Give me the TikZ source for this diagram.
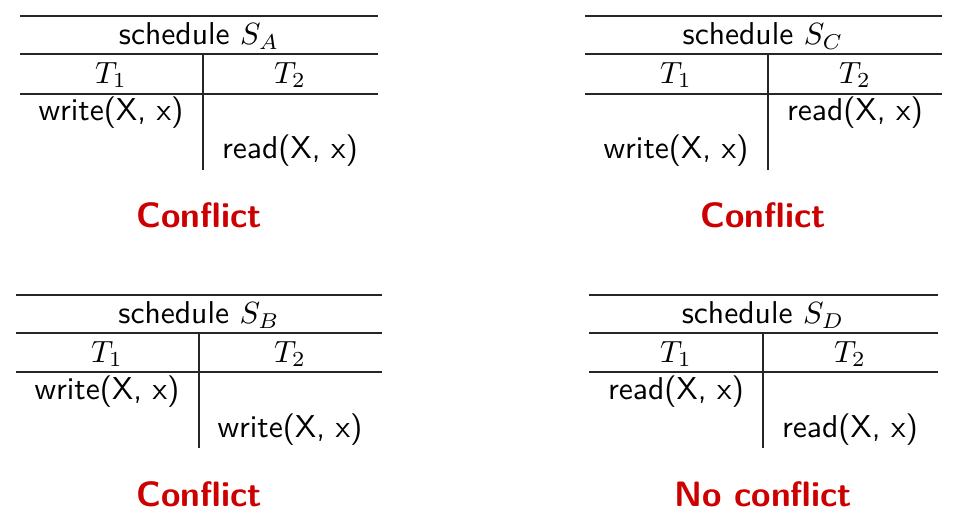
\documentclass[tikz,border=0pt]{standalone}
\usepackage{tikz}
\usetikzlibrary{positioning,calc}
\definecolor{alertred}{RGB}{204,0,0}
\tikzset{
  rule/.style={line width=0.6pt, draw=black!85},
  cell/.style={font=\sffamily\fontsize{10.3}{12}\selectfont, inner sep=0pt},
  verdict/.style={font=\sffamily\bfseries\fontsize{11.5}{13}\selectfont, text=alertred, inner sep=0pt}
}

\begin{document}
\begin{tikzpicture}[x=0.326pt, y=-0.326pt]
    \useasboundingbox (0,0) rectangle (970,521);

    % schedule S_A
    \coordinate (a0) at (20,16);   \coordinate (a1) at (378,16);
    \coordinate (a2) at (20,54);   \coordinate (a3) at (378,54);
    \coordinate (a4) at (20,94);   \coordinate (a5) at (378,94);
    \coordinate (am) at (203,54);  \coordinate (ae) at (203,170);
    \node[cell] (aH)  at (199,36)  {schedule $S_A$};
    \node[cell] (aT1) at (111,75)  {$T_1$};
    \node[cell] (aT2) at (290,75)  {$T_2$};
    \node[cell] (aR1) at (111,113) {write(X, x)};
    \node[cell] (aR2) at (290,151) {read(X, x)};
    \node[verdict] (aV) at (199,215) {Conflict};
    \draw[rule] (a0) -- (a1);
    \draw[rule] (a2) -- (a3);
    \draw[rule] (a4) -- (a5);
    \draw[rule] (am) -- (ae);

    % schedule S_C
    \coordinate (c0) at (585,16);  \coordinate (c1) at (942,16);
    \coordinate (c2) at (585,54);  \coordinate (c3) at (942,54);
    \coordinate (c4) at (585,94);  \coordinate (c5) at (942,94);
    \coordinate (cm) at (768,54);  \coordinate (ce) at (768,170);
    \node[cell] (cH)  at (763,36)  {schedule $S_C$};
    \node[cell] (cT1) at (676,75)  {$T_1$};
    \node[cell] (cT2) at (855,75)  {$T_2$};
    \node[cell] (cR1) at (855,113) {read(X, x)};
    \node[cell] (cR2) at (676,151) {write(X, x)};
    \node[verdict] (cV) at (763,215) {Conflict};
    \draw[rule] (c0) -- (c1);
    \draw[rule] (c2) -- (c3);
    \draw[rule] (c4) -- (c5);
    \draw[rule] (cm) -- (ce);

    % schedule S_B
    \coordinate (b0) at (16,295);  \coordinate (b1) at (382,295);
    \coordinate (b2) at (16,333);  \coordinate (b3) at (382,333);
    \coordinate (b4) at (16,372);  \coordinate (b5) at (382,372);
    \coordinate (bm) at (199,333); \coordinate (be) at (199,448);
    \node[cell] (bH)  at (199,315) {schedule $S_B$};
    \node[cell] (bT1) at (107,354) {$T_1$};
    \node[cell] (bT2) at (290,354) {$T_2$};
    \node[cell] (bR1) at (107,392) {write(X, x)};
    \node[cell] (bR2) at (290,430) {write(X, x)};
    \node[verdict] (bV) at (199,494) {Conflict};
    \draw[rule] (b0) -- (b1);
    \draw[rule] (b2) -- (b3);
    \draw[rule] (b4) -- (b5);
    \draw[rule] (bm) -- (be);

    % schedule S_D
    \coordinate (d0) at (589,295); \coordinate (d1) at (938,295);
    \coordinate (d2) at (589,333); \coordinate (d3) at (938,333);
    \coordinate (d4) at (589,372); \coordinate (d5) at (938,372);
    \coordinate (dm) at (763,333); \coordinate (de) at (763,448);
    \node[cell] (dH)  at (763,315) {schedule $S_D$};
    \node[cell] (dT1) at (676,354) {$T_1$};
    \node[cell] (dT2) at (850,354) {$T_2$};
    \node[cell] (dR1) at (676,392) {read(X, x)};
    \node[cell] (dR2) at (850,430) {read(X, x)};
    \node[verdict] (dV) at (763,494) {No conflict};
    \draw[rule] (d0) -- (d1);
    \draw[rule] (d2) -- (d3);
    \draw[rule] (d4) -- (d5);
    \draw[rule] (dm) -- (de);
\end{tikzpicture}
\end{document}
